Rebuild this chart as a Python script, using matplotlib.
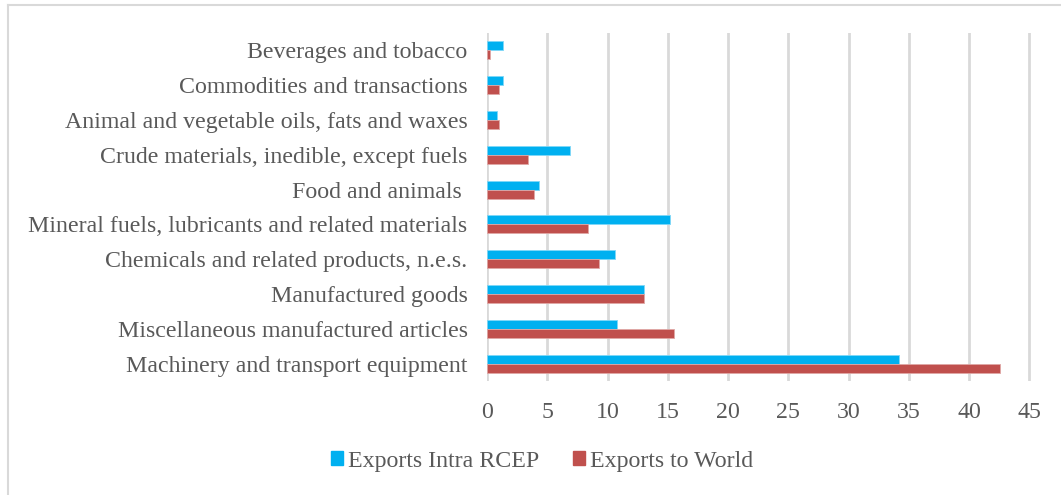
import matplotlib
matplotlib.use("Agg")
import matplotlib.pyplot as plt
import numpy as np
from matplotlib.lines import Line2D
from matplotlib.patches import Patch

categories = [
    "Machinery and transport equipment",
    "Miscellaneous manufactured articles",
    "Manufactured goods",
    "Chemicals and related products, n.e.s.",
    "Mineral fuels, lubricants and related materials",
    "Food and animals ",
    "Crude materials, inedible, except fuels",
    "Animal and vegetable oils, fats and waxes",
    "Commodities and transactions",
    "Beverages and tobacco",
]
intra_rcep = [34.2, 10.8, 13.0, 10.6, 15.2, 4.3, 6.9, 0.8, 1.35, 1.35]
to_world = [42.6, 15.5, 13.0, 9.3, 8.4, 3.9, 3.4, 1.0, 1.0, 0.25]
x_ticks = list(range(0, 50, 5))

BLUE = "#00b0f0"
RED = "#c0504d"
TEXT = "#595959"
GRID = "#d9d9d9"
FS = 17.2

plt.rcParams["font.family"] = ["Liberation Serif", "DejaVu Serif"]

fig = plt.figure(figsize=(10.61, 4.95), dpi=100)
ax = fig.add_axes([487 / 1061, 1 - 381 / 495, 546 / 1061, 348 / 495])

y = np.arange(len(categories))
h = 0.26
ax.barh(y + h / 2, intra_rcep, height=h, color=BLUE, edgecolor="#7fd7f7",
        linewidth=0.6, zorder=3, label="Exports Intra RCEP")
ax.barh(y - h / 2, to_world, height=h, color=RED, edgecolor="#dfa7a5",
        linewidth=0.6, zorder=3, label="Exports to World")

ax.set_xlim(0, 45.3)
ax.set_ylim(-0.5, len(categories) - 0.5)
ax.set_xticks(x_ticks)
ax.set_yticks(y)
ax.set_yticklabels(categories)
ax.tick_params(axis="both", length=0, labelsize=FS, colors=TEXT)
ax.tick_params(axis="y", pad=14)
ax.tick_params(axis="x", pad=15)
ax.grid(axis="x", color=GRID, linewidth=2, zorder=0)
for s in ax.spines.values():
    s.set_visible(False)

handles = [Patch(color=BLUE), Patch(color=RED)]
fig.legend(handles, ["Exports Intra RCEP", "Exports to World"],
           loc="center", bbox_to_anchor=(542 / 1061, 1 - 461 / 495), ncol=2,
           frameon=False, fontsize=FS, labelcolor=TEXT,
           handlelength=0.5, handleheight=0.5, handletextpad=0.2,
           columnspacing=1.4)

# outer frame
fig.add_artist(Line2D([8 / 1061, 8 / 1061], [0, 1 - 5 / 495],
                      transform=fig.transFigure, color="#d9d9d9", lw=1.5))
fig.add_artist(Line2D([8 / 1061, 1], [1 - 5 / 495, 1 - 5 / 495],
                      transform=fig.transFigure, color="#d9d9d9", lw=1.5))

fig.savefig("out.png", dpi=100)
